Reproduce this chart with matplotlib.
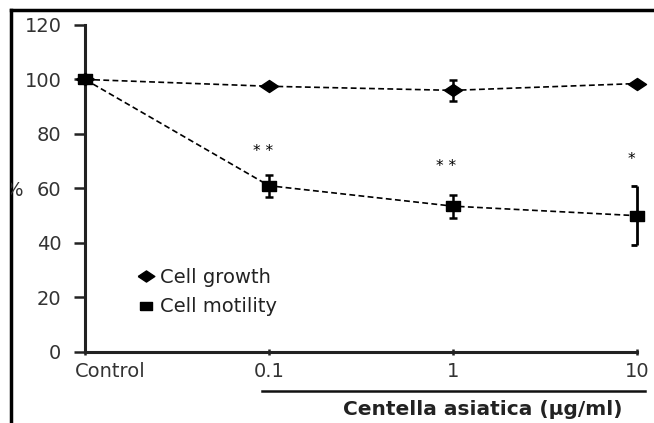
import matplotlib
matplotlib.use("Agg")
from matplotlib import pyplot as plt
from matplotlib.lines import Line2D
from matplotlib.transforms import Bbox, TransformedBbox, ScaledTranslation

plt.rcParams['font.family'] = ['DejaVu Sans']

labels = ['Control', '0.1', '1', '10']
growth = [100, 97.5, 96, 98.5]
growth_err = [0, 0, 3.8, 0]
motility = [100, 61, 53.5, 50]
motility_err = [0, 4, 4.2, 10.8]
stars = ['', '* *', '* *', '*']
star_x = [0, 0.97, 1.96, 2.97]
star_y = [0, 73.4, 68.2, 70.8]

x = list(range(len(labels)))

# the source picture is stretched sideways, so the markers are too
diamond = [(-1.5, 0), (0, 1), (1.5, 0), (0, -1), (-1.5, 0)]
square = [(-1.5, -1), (1.5, -1), (1.5, 1), (-1.5, 1), (-1.5, -1)]

fig = plt.figure(figsize=(6.54, 4.23), dpi=100)
ax = fig.add_axes([0.130, 0.168, 0.844, 0.773])

ax.plot(x, growth, color='black', ls='--', lw=1.2, dashes=(3.5, 2),
        marker=diamond, ms=13, clip_on=False, zorder=3)
ax.plot(x, motility, color='black', ls='--', lw=1.2, dashes=(3.5, 2),
        marker=square, ms=10, clip_on=False, zorder=3)

# error bars; the last motility bar only has caps on its left side
ax.errorbar(x, growth, yerr=growth_err, fmt='none', ecolor='black',
            elinewidth=1.8, capsize=3.2, capthick=1.8, clip_on=False)
ax.errorbar(x[:3], motility[:3], yerr=motility_err[:3], fmt='none', ecolor='black',
            elinewidth=1.8, capsize=3.2, capthick=1.8, clip_on=False)
lo = motility[3] - motility_err[3]
hi = motility[3] + motility_err[3]
ax.vlines(x[3], lo, hi, color='black', lw=2, clip_on=False)
ax.hlines([lo, hi], x[3] - 0.035, x[3], color='black', lw=2, clip_on=False)

for sx, s, sy in zip(star_x, stars, star_y):
    if s:
        ax.text(sx, sy, s, ha='center', va='center', fontsize=11)

ax.set_xlim(0, 3)
ax.set_ylim(0, 120)
ax.set_yticks(range(0, 121, 20))
ax.set_xticks(x)
ax.set_xticklabels(labels)
ax.tick_params(axis='both', labelsize=14, width=1.8, length=8,
               color='#222222', labelcolor='#333333')
ax.tick_params(axis='y', pad=9)
ax.tick_params(axis='x', pad=5, length=5, direction='inout')
# "Control" sits to the right of its tick in the source
ctrl = ax.get_xticklabels()[0]
ctrl.set_ha('left')
ctrl.set_transform(ctrl.get_transform() + ScaledTranslation(-10 / 100, 0, fig.dpi_scale_trans))
for side in ['top', 'right']:
    ax.spines[side].set_visible(False)
for side in ['left', 'bottom']:
    ax.spines[side].set_linewidth(2.2)
    ax.spines[side].set_color('#222222')

handles = [Line2D([], [], color='black', marker=diamond, ls='none', ms=12),
           Line2D([], [], color='black', marker=square, ls='none', ms=9)]
ax.legend(handles, ['Cell growth', 'Cell motility'], frameon=False,
          loc='lower left', bbox_to_anchor=(0.065, 0.055), fontsize=14,
          handlelength=0.8, handletextpad=0.3, labelspacing=0.55,
          labelcolor='#222222')

# "%" label, cut by the left border as in the source
pct = fig.text(23 / 654, 1 - 190 / 423, '%', fontsize=14, ha='right', va='center',
               color='#333333')
pct.set_clip_box(TransformedBbox(Bbox([[11 / 654, 0], [1, 1]]), fig.transFigure))
pct.set_clip_on(True)

# underline for the concentration group and the axis title
fig.add_artist(Line2D([262 / 654, 645 / 654], [1 - 391 / 423, 1 - 391 / 423],
                      color='#111111', lw=1.8))
fig.text(483 / 654, 1 - 409 / 423, 'Centella asiatica (μg/ml)', ha='center',
         va='center', fontsize=14.5, fontweight='bold', color='#222222')

# frame lines of the cropped panel
fig.add_artist(Line2D([11 / 654, 11 / 654], [0, 1 - 10 / 423], color='black', lw=2.5))
fig.add_artist(Line2D([11 / 654, 1], [1 - 10 / 423, 1 - 10 / 423], color='black', lw=2.5))

fig.savefig('out.png', dpi=100)
